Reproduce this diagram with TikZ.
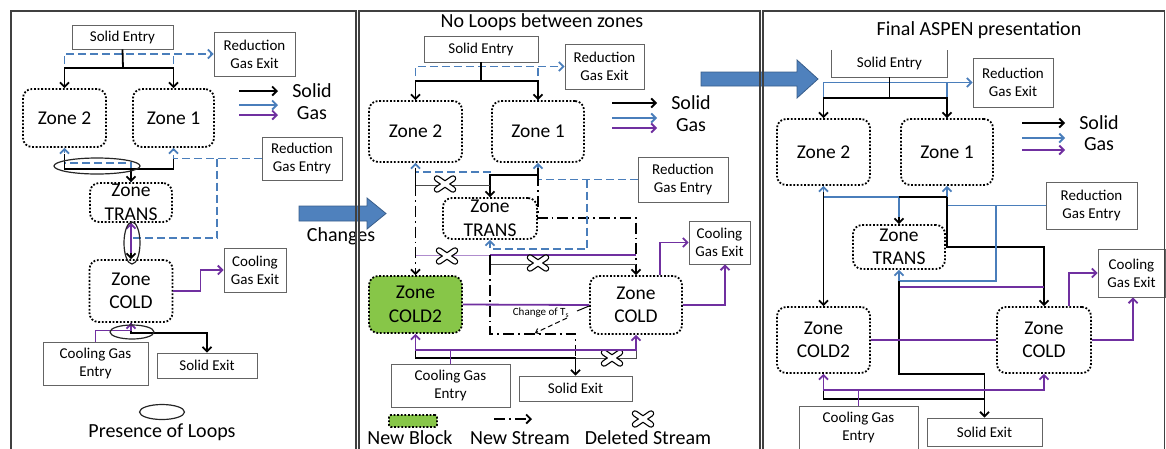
\documentclass[tikz,border=0pt]{standalone}
\usepackage{fontspec}
\setmainfont{Carlito}
\usetikzlibrary{arrows.meta,calc,shapes.geometric}
\definecolor{gasblue}{RGB}{74,126,187}
\definecolor{cgpurple}{RGB}{112,48,160}
\definecolor{newgreen}{RGB}{135,198,72}
\definecolor{boxgray}{RGB}{100,100,100}
\definecolor{arrowfill}{RGB}{79,129,189}
\definecolor{arrowedge}{RGB}{56,93,138}
\definecolor{lavender}{RGB}{175,140,205}

\tikzset{
  sz/.style 2 args={minimum width=#1pt,minimum height=#2pt},
  box/.style={draw=boxgray,line width=0.9pt,fill=white,inner sep=0pt,align=center,font=\fontsize{15}{18.3}\selectfont},
  zone/.style={draw=black,line width=1.8pt,dash pattern=on 1.8pt off 1.8pt,rounded corners=9pt,inner sep=0pt,align=center,font=\fontsize{19.5}{23.5}\selectfont},
  newzone/.style={zone,fill=newgreen},
  bigtext/.style={inner sep=0pt,font=\fontsize{20}{24}\selectfont},
  smalltext/.style={inner sep=0pt,font=\fontsize{11}{13}\selectfont},
  loopmark/.style={draw=black!85,line width=1.2pt,ellipse,inner sep=0pt},
  arr/.style={-{Straight Barb[length=4.5pt,width=9pt]}},
  smallarr/.style={-{Straight Barb[length=3.5pt,width=6pt]}},
  solidl/.style={black,line width=1.8pt},
  gasl/.style={gasblue,line width=1.8pt},
  gasd/.style={gasl,dash pattern=on 8pt off 4pt},
  cool/.style={cgpurple,line width=1.8pt},
  newst/.style={black,line width=1.8pt,dash pattern=on 11pt off 4pt on 1.8pt off 4pt},
  delst/.style={black!70,line width=0.8pt},
  delcool/.style={lavender,line width=1pt},
  panel/.style={draw=black!75,line width=1.1pt},
  blockarrow/.style={fill=arrowfill,draw=arrowedge,line width=0.8pt},
  delx/.pic={
    \draw[black,line width=6.5pt,line cap=round] (-8,-5.5) -- (8,5.5) (-8,5.5) -- (8,-5.5);
    \draw[white,line width=4pt,line cap=round] (-8,-5.5) -- (8,5.5) (-8,5.5) -- (8,-5.5);
  },
}

\begin{document}
\begin{tikzpicture}[x=1pt,y=-1pt]
\useasboundingbox (0,0) rectangle (1166,448);
\clip (0,0) rectangle (1166,448);

%% ---------------- left panel: original layout with loops ----------------
\node[box,sz={101}{24}] (p1se) at (122.5,37) {Solid Entry};
\node[box,sz={81}{44}] (p1rgx) at (254.5,54) {Reduction\\Gas Exit};
\node[zone,sz={83}{58}] (p1z2) at (64.5,118) {Zone 2};
\node[zone,sz={81}{58}] (p1z1) at (173.5,118) {Zone 1};
\node[box,sz={80}{43}] (p1rge) at (302,158.5) {Reduction\\Gas Entry};
\node[zone,sz={82}{39}] (p1zt) at (131,202.5) {Zone\\TRANS};
\node[zone,sz={83}{62}] (p1zc) at (131,291) {Zone\\COLD};
\node[box,sz={62}{44}] (p1cgx) at (255,270) {Cooling\\Gas Exit};
\node[box,sz={105}{43}] (p1cge) at (95.5,363.5) {Cooling Gas\\Entry};
\node[box,sz={100}{25}] (p1sx) at (207,365.5) {Solid Exit};

\coordinate (p1split) at (123,68);
\draw[gasd,arr] (p1z2.north) |- (p1rgx.west);
\draw[gasd] (p1z1.north) -- (p1z1.north |- p1rgx.west);
\draw[solidl] (p1se.south) -- (p1split);
\draw[solidl,arr] (p1split) -| (p1z2.north);
\draw[solidl,arr] (p1split) -| (p1z1.north);

\draw[solidl,arr] (239,91) -- (278,91);
\draw[gasl,arr] (239,105) -- (278,105);
\draw[cool,arr] (239,115) -- (278,115);
\node[bigtext] (p1keysolid) at (312,91) {Solid};
\node[bigtext] (p1keygas) at (312,113) {Gas};

\coordinate (p1merge) at (131,169);
\draw[gasd,arr] (p1zt.north) -- ++(0,-19) -| (p1z2.south);
\draw[gasd,arr] (p1rge.west) -| (p1z1.south);
\draw[solidl] ($(p1z2.south)+(0,6)$) |- (p1merge);
\draw[solidl] (p1z1.south |- p1rge.west) |- (p1merge);
\draw[solidl,arr] (p1merge) -- (p1zt.north);

\coordinate (p1gv1) at (217,158.5);
\coordinate (p1gv2) at (217,238);
\draw[gasd] (p1gv1) -- (p1gv2) -- (p1zt.south |- p1gv2);
\draw[solidl,arr] (p1zt.south) -- (p1zc.north);
\draw[cool,arr] ($(p1zc.north)+(0,-6)$) -- (p1zt.south);

\draw[cool,arr] (p1zc.east) -- ++(27,0) |- (p1cgx.west);
\draw[solidl,arr] (p1zc.south) -- ++(0,10) -| (p1sx.north);
\draw[cool,arr] (p1cge.north) -- ++(0,-11) -| (p1zc.south);

\node[loopmark,sz={86}{16}] (p1loopa) at (97,166) {};
\node[loopmark,sz={16}{42}] (p1loopb) at (132,243) {};
\node[loopmark,sz={44}{14}] (p1loopc) at (132,332) {};
\node[loopmark,sz={45}{15}] (p1loopkey) at (162,412) {};
\node[bigtext] (p1looptxt) at (162,432) {Presence of Loops};

%% step arrow between the first two panels
\draw[blockarrow] (299,206) -- (367,206) -- (367,198) -- (386,213.5) -- (367,229) -- (367,221) -- (299,221) -- cycle;
\node[bigtext] (chg) at (341,236) {Changes};

%% ---------------- middle panel: loops removed ----------------
\node[bigtext] (p2title) at (542,22) {No Loops between zones};
\node[box,sz={114}{26}] (p2se) at (481,49) {Solid Entry};
\node[box,sz={79}{45}] (p2rgx) at (604.5,66.5) {Reduction\\Gas Exit};
\node[zone,sz={93}{61}] (p2z2) at (415.5,131.5) {Zone 2};
\node[zone,sz={92}{61}] (p2z1) at (538,131.5) {Zone 1};
\node[box,sz={90}{45}] (p2rge) at (683,179.5) {Reduction\\Gas Entry};
\node[zone,sz={94}{41}] (p2zt) at (490,218.5) {Zone\\TRANS};
\node[newzone,sz={93}{57}] (p2zc2) at (415.5,304.5) {Zone\\COLD2};
\node[zone,sz={92}{58}] (p2zc) at (636,305) {Zone\\COLD};
\node[box,sz={61}{43}] (p2cgx) at (719.5,242.5) {Cooling\\Gas Exit};
\node[box,sz={119}{43}] (p2cge) at (450.5,385.5) {Cooling Gas\\Entry};
\node[box,sz={113}{25}] (p2sx) at (575.5,388.5) {Solid Exit};

\coordinate (p2split) at (481,81);
\draw[gasd,arr] (p2z2.north) |- (p2rgx.west);
\draw[gasd] (p2z1.north) -- (p2z1.north |- p2rgx.west);
\draw[solidl] (p2se.south) -- (p2split);
\draw[solidl,arr] (p2split) -| (p2z2.north);
\draw[solidl,arr] (p2split) -| (p2z1.north);

\draw[solidl,arr] (612,103) -- (657,103);
\draw[gasl,arr] (612,118) -- (657,118);
\draw[cool,arr] (612,128) -- (657,128);
\node[bigtext] (p2keysolid) at (691,103) {Solid};
\node[bigtext] (p2keygas) at (691,125) {Gas};

\coordinate (p2up) at (490,172);
\coordinate (p2j1) at (538,175);
\coordinate (p2d1) at (415.5,185);
\draw[gasd,arr] (p2zt.north) -- (p2up) -| (p2z2.south);
\draw[gasd,arr] (p2rge.west) -| (p2z1.south);
\draw[solidl,arr] ($(p2z1.south)+(0,5)$) -- (p2j1) -| (p2zt.north);
\draw[solidl] ($(p2z2.south)+(0,5)$) -- (p2d1);
\draw[delst] (p2d1) -- (p2zt.north |- p2d1);
\draw[newst,arr] (p2d1) -- (p2zc2.north);
\pic at (445,184) {delx};

\coordinate (p2n1) at (538,218);
\coordinate (p2n2) at (636,264);
\draw[newst] (p2j1) -- (p2n1) -| (p2n2);
\draw[solidl,arr] (p2n2) -- (p2zc.north);

\coordinate (p2g1) at (587,179.5);
\coordinate (p2g2) at (587,249);
\draw[gasd,arr] (p2g1) -- (p2g2) -| (p2zt.south);

\coordinate (p2c1) at (490,255);
\coordinate (p2b1) at (490,264);
\draw[cool] (p2c1) -- (p2zc.north |- p2c1);
\draw[delcool] (p2zc2.north |- p2c1) -- (p2c1);
\draw[solidl] (p2c1) -- (p2b1);
\draw[delst] (p2b1) -- (p2n2);
\pic at (447,256) {delx};
\pic at (538,263) {delx};

\coordinate (p2n3) at (490,334);
\coordinate (p2n4) at (575.5,358);
\draw[newst] (p2b1) -- (p2n3) -| (p2n4);

\node[smalltext] (p2chg) at (541,313) {Change of T\textsubscript{s}};
\draw[black,line width=1pt] ($(p2zc.west)+(0,1)$) -- (577,311);
\draw[black,line width=1pt,dash pattern=on 5pt off 3pt,smallarr] (567,318) -- (535,333);

\draw[cool] (p2zc2.east) -- (p2zc.west);
\coordinate (p2cx) at (660,0);
\draw[cool,arr] (p2zc.north -| p2cx) |- (p2cgx.west);
\coordinate (p2cy) at (725,305);
\draw[cool,arr] (p2zc.east) -- (p2cy) -- (p2cy |- p2cgx.south);

\draw[solidl,arr] (p2zc2.south) |- (p2n4) -- (p2sx.north);
\draw[delst] (p2n4) -| ($(p2zc.south)+(0,16)$);
\pic at (612,358) {delx};
\coordinate (p2cj) at (450.5,350);
\draw[cool,arr] (p2cge.north) -- (p2cj) -| (p2zc2.south);
\draw[cool,arr] (p2cj) -| (p2zc.south);

\node[newzone,sz={48}{12},rounded corners=2pt] (p2keyblock) at (413,421) {};
\node[bigtext] (p2keyblocktxt) at (410,438) {New Block};
\draw[newst,arr] (494,419) -- (532,419);
\node[bigtext] (p2keynewtxt) at (520,438) {New Stream};
\pic at (643,419) {delx};
\node[bigtext] (p2keydeltxt) at (648,438) {Deleted Stream};

%% step arrow into the last panel
\draw[blockarrow] (701,72) -- (797,72) -- (797,60) -- (818,79) -- (797,98) -- (797,86) -- (701,86) -- cycle;

%% ---------------- right panel: final flowsheet ----------------
\node[bigtext] (p3title) at (979,30) {Final ASPEN presentation};
\node[inner sep=0pt,sz={115}{27},font=\fontsize{15}{18.3}\selectfont] (p3se) at (889.5,63.5) {Solid Entry};
\draw[boxgray,line width=0.9pt] (p3se.north west) -- (p3se.south west) -- (p3se.south east) -- (p3se.north east);
\node[box,sz={80}{49}] (p3rgx) at (1013,82.5) {Reduction\\Gas Exit};
\node[zone,sz={93}{66}] (p3z2) at (823.5,152) {Zone 2};
\node[zone,sz={92}{66}] (p3z1) at (947,152) {Zone 1};
\node[box,sz={91}{47}] (p3rge) at (1091.5,205.5) {Reduction\\Gas Entry};
\node[zone,sz={92}{44}] (p3zt) at (899,247) {Zone\\TRANS};
\node[zone,sz={93}{66}] (p3zc2) at (823.5,340) {Zone\\COLD2};
\node[zone,sz={94}{66}] (p3zc) at (1044,340) {Zone\\COLD};
\node[box,sz={67}{48}] (p3cgx) at (1131.5,273) {Cooling\\Gas Exit};
\node[box,sz={119}{43}] (p3cge) at (858.5,427.5) {Cooling Gas\\Entry};
\node[box,sz={115}{28}] (p3sx) at (984.5,432) {Solid Exit};

\coordinate (p3split) at (889.5,98);
\draw[gasl,arr] (p3z2.north) |- (p3rgx.west);
\draw[gasl] (p3z1.north) -- (p3z1.north |- p3rgx.west);
\draw[solidl] (p3se.south) -- (p3split);
\draw[solidl,arr] (p3split) -| (p3z2.north);
\draw[solidl,arr] (p3split) -| (p3z1.north);

\draw[solidl,arr] (1022,123) -- (1065,123);
\draw[gasl,arr] (1022,138) -- (1065,138);
\draw[cool,arr] (1022,150) -- (1065,150);
\node[bigtext] (p3keysolid) at (1099,123) {Solid};
\node[bigtext] (p3keygas) at (1099,144) {Gas};

\coordinate (p3g0) at (899,197);
\coordinate (p3j1) at (947,197);
\coordinate (p3j2) at (947,247);
\draw[gasl,arr] (p3rge.west) -| (p3z1.south);
\draw[solidl,arr] (p3g0) -- (p3zt.north);
\draw[gasl,arr] (p3g0) -| (p3z2.south);
\draw[gasl] (p3g0) -- ++(0,20);
\draw[solidl] (p3g0) -- (p3j1);
\draw[solidl,arr] (p3j1) -- (p3j2) -| (p3zc.north);
\draw[solidl,arr] ($(p3z2.south)+(0,6)$) -- (p3zc2.north);

\coordinate (p3g1) at (996,205.5);
\coordinate (p3g2) at (996,281);
\draw[gasl,arr] (p3g1) -- (p3g2) -| (p3zt.south);
\coordinate (p3c1) at (899,287);
\draw[cool] (p3c1) -- (p3zc.north |- p3c1);

\coordinate (p3b1) at (899,374);
\coordinate (p3b3) at (984.5,399);
\draw[solidl] (p3zt.south |- p3g2) -- (p3b1) -- (p3sx.north |- p3b1);
\draw[solidl,arr] (p3sx.north |- p3b1) -- (p3sx.north);
\draw[solidl] (p3zc2.south) |- (p3b3);

\draw[cool] (p3zc2.east) -- (p3zc.west);
\coordinate (p3cx) at (1069,0);
\draw[cool,arr] (p3zc.north -| p3cx) |- (p3cgx.west);
\coordinate (p3cy) at (1133,340);
\draw[cool,arr] (p3zc.east) -- (p3cy) -- (p3cy |- p3cgx.south);
\coordinate (p3cj) at (858.5,390);
\draw[cool,arr] (p3cge.north) -- (p3cj) -| (p3zc2.south);
\draw[cool,arr] (p3cj) -| (p3zc.south);

%% panel frames
\draw[panel] (11,449) -- (11,11) -- (356,11) -- (356,449);
\draw[panel] (359,449) -- (359,11) -- (760,11) -- (760,449);
\draw[panel] (763,449) -- (763,11) -- (1164.5,11) -- (1164.5,449);
\end{tikzpicture}
\end{document}
